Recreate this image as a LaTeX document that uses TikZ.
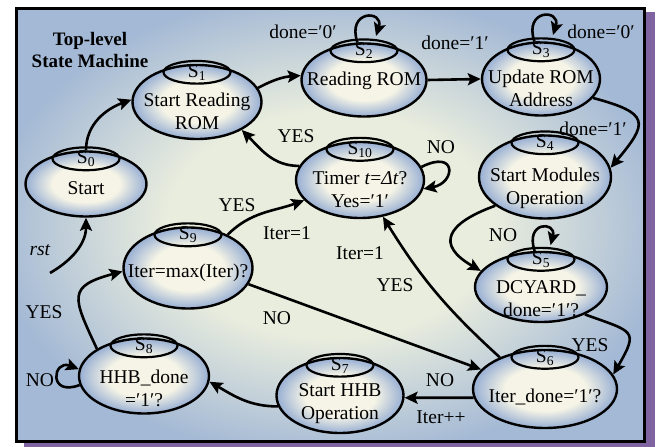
\documentclass[tikz,border=0pt]{standalone}
\usepackage{fontspec}
\setmainfont{Liberation Serif}
\usetikzlibrary{shapes.geometric,arrows.meta}

\definecolor{bgin}{RGB}{233,237,222}
\definecolor{bgout}{RGB}{164,185,213}
\definecolor{stin}{RGB}{245,244,230}
\definecolor{stout}{RGB}{152,175,211}
\definecolor{shadowpurple}{RGB}{128,100,162}

\pgfdeclareradialshading{bgshade}{\pgfpointorigin}{color(0bp)=(bgin); color(13bp)=(bgin); color(27bp)=(bgout); color(50bp)=(bgout)}
\pgfdeclareradialshading{stateshade}{\pgfpointorigin}{color(0bp)=(stin); color(14bp)=(stin); color(25bp)=(stout); color(50bp)=(stout)}

\tikzset{
  state/.style={ellipse, draw, line width=2.4pt, inner sep=0pt, shading=stateshade},
  tag/.style={ellipse, draw, line width=2.2pt, inner sep=0pt, minimum width=67pt, minimum height=16pt},
  txt/.style={align=center, inner sep=0pt},
  lbl/.style={inner sep=0pt},
  arr/.style={line width=2.6pt, -{Stealth[length=13pt,width=12pt,inset=2.5pt]}}
}

\begin{document}
\begin{tikzpicture}[x=1pt, y=1pt, font=\fontsize{19.5}{23}\selectfont]
	\useasboundingbox (0,0) rectangle (662,447);
	% frame
	\fill[shadowpurple] (24,-5) rectangle (655,435);
	\shade[shading=bgshade] (16.5,5.5) rectangle (644.5,438.5);
	\draw[line width=3pt] (16.5,5.5) rectangle (644.5,438.5);
	\node[font=\fontsize{19}{22}\selectfont\bfseries, align=center] (title) at (90,397) {Top-level\\State Machine};

	% states
	\node[state, minimum width=121pt, minimum height=65pt] (s0) at (86,263) {};
	\node[tag] (t0) at ([yshift=-8.5pt]s0.north) {S\textsubscript{0}};
	\node[txt] (x0) at ([yshift=-4pt]s0.center) {Start};

	\node[state, minimum width=129pt, minimum height=74pt] (s1) at (197,345) {};
	\node[tag] (t1) at ([yshift=-8.5pt]s1.north) {S\textsubscript{1}};
	\node[txt] (x1) at ([yshift=-9pt]s1.center) {Start Reading\\ROM};

	\node[state, minimum width=125pt, minimum height=73pt] (s2) at (364,367) {};
	\node[tag] (t2) at ([yshift=-8.5pt]s2.north) {S\textsubscript{2}};
	\node[txt] (x2) at ([yshift=-1pt]s2.center) {Reading ROM};

	\node[state, minimum width=118pt, minimum height=73pt] (s3) at (541,368) {};
	\node[tag] (t3) at ([yshift=-8.5pt]s3.north) {S\textsubscript{3}};
	\node[txt] (x3) at ([yshift=-9pt]s3.center) {Update ROM\\Address};

	\node[state, minimum width=132pt, minimum height=83pt] (s4) at (545,270) {};
	\node[tag] (t4) at ([yshift=-8.5pt]s4.north) {S\textsubscript{4}};
	\node[txt] (x4) at ([yshift=-11pt]s4.center) {Start Modules\\Operation};

	\node[state, minimum width=132pt, minimum height=70pt] (s5) at (541,160) {};
	\node[tag] (t5) at ([yshift=-8.5pt]s5.north) {S\textsubscript{5}};
	\node[txt] (x5) at ([yshift=-12pt]s5.center) {DCYARD\_\\done=′1′?};

	\node[state, minimum width=144pt, minimum height=78pt] (s6) at (545,58) {};
	\node[tag] (t6) at ([yshift=-8.5pt]s6.north) {S\textsubscript{6}};
	\node[txt] (x6) at ([yshift=-8pt]s6.center) {Iter\_done=′1′?};

	\node[state, minimum width=127pt, minimum height=75pt] (s7) at (340,51.5) {};
	\node[tag] (t7) at ([yshift=-8.5pt]s7.north) {S\textsubscript{7}};
	\node[txt] (x7) at ([yshift=-8.5pt]s7.center) {Start HHB\\Operation};

	\node[state, minimum width=130pt, minimum height=75pt] (s8) at (144,71) {};
	\node[tag] (t8) at ([yshift=-8.5pt]s8.north) {S\textsubscript{8}};
	\node[txt] (x8) at ([yshift=-12pt]s8.center) {HHB\_done\\=′1′?};

	\node[state, minimum width=129pt, minimum height=81pt] (s9) at (188,179) {};
	\node[tag] (t9) at ([yshift=-8.5pt]s9.north) {S\textsubscript{9}};
	\node[txt] (x9) at ([yshift=-5pt]s9.center) {Iter=max(Iter)?};

	\node[state, minimum width=128pt, minimum height=76pt] (s10) at (360,267) {};
	\node[tag] (t10) at ([yshift=-8.5pt]s10.north) {S\textsubscript{10}};
	\node[txt] (x10) at ([yshift=-10pt]s10.center) {Timer \textit{t}=\textit{Δt}?\\Yes=′1′};

	% transitions
	\coordinate (rst) at (50,174);
	\draw[arr] (rst) to[out=30,in=-90] (s0.south);
	\draw[arr] (s0.north) to[out=90,in=200] (s1.178);
	\draw[arr] (s1.13) to[bend left=12] (s2.176);
	\draw[arr] (s2.100) .. controls +(-11,33) and +(8,26) .. ([yshift=7pt]s2.72);
	\draw[arr] (s2.east) -- (s3.west);
	\draw[arr] (s3.100) .. controls +(-11,33) and +(8,26) .. ([yshift=7pt]s3.72);
	\draw[arr] (s3.-20) to[out=-15,in=50,looseness=2.1] (s4.8);
	\draw[arr] (s4.210) to[out=200,in=150,looseness=2] (s5.165);
	\draw[arr] (s5.100) .. controls +(-10,30) and +(6,24) .. ([yshift=6pt]s5.75);
	\draw[arr] (s5.-32) to[out=-20,in=60,looseness=2] (s6.12);
	\draw[arr] (s6.145) to[bend left=8] (s10.-58);
	\draw[arr] (s10.167) to[out=180,in=-45] (s1.-32);
	\draw[arr] (s10.12) .. controls +(36,18) and +(32,6) .. (s10.-8);
	\draw[arr] (s9.40) to[out=45,in=200] (s10.200);
	\draw[arr] (s9.-15) -- (s6.163);
	\draw[arr] (s6.187) -- (s7.-2);
	\draw[arr] (s7.190) to[out=180,in=-30] (s8.-5);
	\draw[arr] (s8.188) .. controls +(-32,-12) and +(-26,10) .. (s8.174);
	\draw[arr] (s8.150) to[out=115,in=195,looseness=1.8] (s9.183);

	% labels
	\node[lbl] (l-rst) at (40,197) {\textit{rst}};
	\node[lbl] (l-s2loop) at (303,415) {done=′0′};
	\node[lbl] (l-s2s3) at (455,404) {done=′1′};
	\node[lbl] (l-s3loop) at (601,415) {done=′0′};
	\node[lbl] (l-s3s4) at (593,318) {done=′1′};
	\node[lbl] (l-s10s1) at (296,311) {YES};
	\node[lbl] (l-s10loop) at (441,300) {NO};
	\node[lbl] (l-s9yes) at (237,242) {YES};
	\node[lbl] (l-s9iter) at (287,214) {Iter=1};
	\node[lbl] (l-s6iter) at (360,194) {Iter=1};
	\node[lbl] (l-s6yes) at (395,162) {YES};
	\node[lbl] (l-s5loop) at (503,212) {NO};
	\node[lbl] (l-s5s6) at (590,102) {YES};
	\node[lbl] (l-s9s6) at (277,129) {NO};
	\node[lbl] (l-s6s7) at (440,67) {NO};
	\node[lbl] (l-iter) at (441,30) {Iter++};
	\node[lbl] (l-s8s9) at (44,135) {YES};
	\node[lbl] (l-s8loop) at (40,67) {NO};
\end{tikzpicture}
\end{document}
